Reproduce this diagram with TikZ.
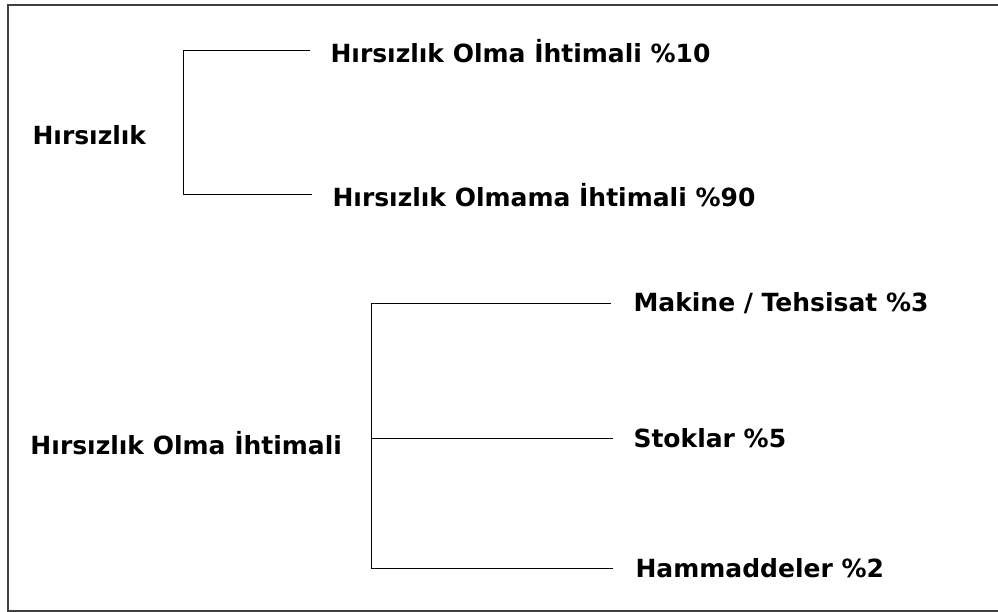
\documentclass[tikz,border=0pt]{standalone}
\usepackage{fontspec}
\setmainfont{DejaVu Sans}
\usepackage{tikz}
\tikzset{lbl/.style={anchor=west,inner sep=0pt,font=\fontsize{25}{29}\selectfont\bfseries}}

\begin{document}
\begin{tikzpicture}[x=1pt,y=-1pt,line width=1pt]
    \useasboundingbox (0,0) rectangle (998,612);
    \draw[line width=2pt,black!75] (1000,5) -- (8,5) -- (8,611) -- (1000,611);
    \node[lbl] (h) at (32,135) {Hırsızlık};
    \node[lbl] (h1) at (330,51) {Hırsızlık Olma İhtimali \%10};
    \node[lbl] (h2) at (332,195) {Hırsızlık Olmama İhtimali \%90};
    \coordinate (b1) at (183,51);
    \coordinate (b2) at (183,195);
    \draw ([xshift=-20pt]h1.west) -- (b1) -- (b2) -- ([xshift=-20pt]h2.west);
    \node[lbl] (o) at (30,443) {Hırsızlık Olma İhtimali};
    \node[lbl] (m) at (633,303) {Makine / Tehsisat \%3};
    \node[lbl] (s) at (633,438) {Stoklar \%5};
    \node[lbl] (hm) at (635,568) {Hammaddeler \%2};
    \coordinate (c1) at (371,303);
    \coordinate (c2) at (371,438);
    \coordinate (c3) at (371,568);
    \draw ([xshift=-22pt]m.west) -- (c1) -- (c3) -- ([xshift=-22pt]hm.west);
    \draw (c2) -- ([xshift=-20pt]s.west);
\end{tikzpicture}
\end{document}
